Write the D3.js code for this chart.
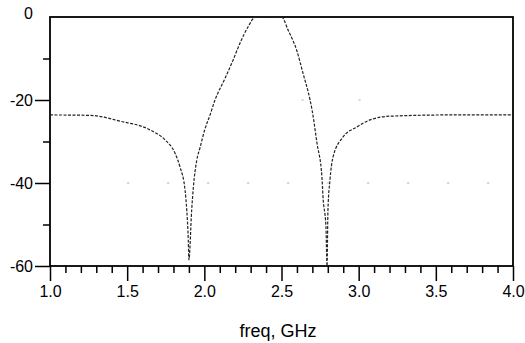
<!DOCTYPE html>
<html>
<head>
<meta charset="utf-8">
<script src="https://cdn.jsdelivr.net/npm/d3@7"></script>
<style>
  body { margin: 0; background: #fff; }
  svg text { font-family: "Liberation Sans", Arial, sans-serif; fill: #000; }
</style>
</head>
<body>
<svg width="525" height="343"></svg>
<script>
// Response: frequency (GHz) and level (dB)
const freqs = [1.000, 1.259, 1.454, 1.648, 1.745, 1.810, 1.842, 1.875, 1.886, 1.896, 1.900,
  1.918, 1.929, 1.951, 1.972, 2.004, 2.037, 2.069, 2.134, 2.186, 2.231, 2.283, 2.328, 2.373,
  2.425, 2.503, 2.542, 2.600, 2.639, 2.685, 2.698, 2.730, 2.762, 2.769, 2.788, 2.795, 2.801,
  2.814, 2.834, 2.899, 2.989, 3.073, 3.203, 3.592, 4.000];
const levels = [-23.6, -23.7, -25.1, -27.2, -29.6, -32.8, -36.1, -41.7, -46.5, -53.7, -58.5,
  -46.5, -41.0, -34.5, -31.5, -27.0, -23.6, -20.0, -14.8, -10.4, -6.3, -2.4, -0.1, 0,
  0, -0.1, -3.1, -8.2, -13.5, -20.0, -22.4, -30.4, -38.6, -43.4, -50.6, -60, -46.5,
  -39.3, -33.7, -28.9, -26.5, -24.8, -23.9, -23.6, -23.6];

const xTicks = [1.0, 1.5, 2.0, 2.5, 3.0, 3.5, 4.0];
const xMinor = d3.range(11, 40).map(d => d / 10).filter(d => Math.round(d * 10) % 5 !== 0);
const yTicks = [0, -20, -40, -60];
const yMinor = [-10, -30, -50];
const xLabel = "freq, GHz";

const svg = d3.select("svg");
const margin = { top: 17, right: 12, bottom: 77, left: 50 };
const width = 525 - margin.left - margin.right;
const height = 343 - margin.top - margin.bottom;

const x = d3.scaleLinear().domain([1, 4]).range([margin.left, margin.left + width]);
const y = d3.scaleLinear().domain([-60, 0]).range([margin.top + height, margin.top]);

const data = freqs.map((f, i) => ({ f, v: levels[i] }));
const fmtY = d => String(d); // plain hyphen, like the original

// faint dotted remnants of grid lines
svg.append("line")
  .attr("x1", x(1.5)).attr("x2", x(4))
  .attr("y1", y(-40)).attr("y2", y(-40))
  .attr("stroke", "#aaa")
  .attr("stroke-dasharray", "2,38");
svg.append("line")
  .attr("x1", x(2.63)).attr("x2", x(3.05))
  .attr("y1", y(-20)).attr("y2", y(-20))
  .attr("stroke", "#aaa")
  .attr("stroke-dasharray", "2,55");

// x axis with major and minor ticks
svg.append("g")
  .attr("transform", `translate(0,${y(-60)})`)
  .call(d3.axisBottom(x).tickValues(xMinor).tickSize(7).tickFormat(""))
  .call(g => g.select(".domain").remove())
  .call(g => g.selectAll("line").attr("stroke-width", 1.5));

svg.append("g")
  .attr("transform", `translate(0,${y(-60)})`)
  .call(d3.axisBottom(x).tickValues(xTicks).tickSize(15).tickPadding(5).tickFormat(d3.format(".1f")))
  .call(g => g.select(".domain").remove())
  .call(g => g.selectAll("line").attr("stroke-width", 1.5))
  .call(g => g.selectAll("text").attr("font-size", 16).style("font-family", "Liberation Sans, Arial, sans-serif"));

// y axis
svg.append("g")
  .attr("transform", `translate(${x(1)},0)`)
  .call(d3.axisLeft(y).tickValues(yMinor).tickSize(7).tickFormat(""))
  .call(g => g.select(".domain").remove())
  .call(g => g.selectAll("line").attr("stroke-width", 1.5));

svg.append("g")
  .attr("transform", `translate(${x(1)},0)`)
  .call(d3.axisLeft(y).tickValues(yTicks.filter(d => d !== 0)).tickSize(15).tickPadding(2).tickFormat(fmtY))
  .call(g => g.select(".domain").remove())
  .call(g => g.selectAll("line").attr("stroke-width", 1.5))
  .call(g => g.selectAll("text").attr("font-size", 16).style("font-family", "Liberation Sans, Arial, sans-serif"));

// "0" label at the top, no tick line
svg.append("text")
  .attr("x", x(1) - 17)
  .attr("y", y(0))
  .attr("dy", "0.1em")
  .attr("text-anchor", "end")
  .attr("font-size", 16)
  .text(fmtY(yTicks[0]));

// frame
svg.append("rect")
  .attr("x", x(1)).attr("y", y(0))
  .attr("width", x(4) - x(1)).attr("height", y(-60) - y(0))
  .attr("fill", "none")
  .attr("stroke", "#000")
  .attr("stroke-width", 1.8);

// response curve
const line = d3.line()
  .x(d => x(d.f))
  .y(d => y(d.v))
  .curve(d3.curveMonotoneX);

svg.append("path")
  .datum(data)
  .attr("d", line)
  .attr("fill", "none")
  .attr("stroke", "#222")
  .attr("stroke-width", 1.2)
  .attr("stroke-dasharray", "3,1.5");

// x axis title
svg.append("text")
  .attr("x", 278)
  .attr("y", 337)
  .attr("text-anchor", "middle")
  .attr("font-size", 18)
  .text(xLabel);
</script>
</body>
</html>
